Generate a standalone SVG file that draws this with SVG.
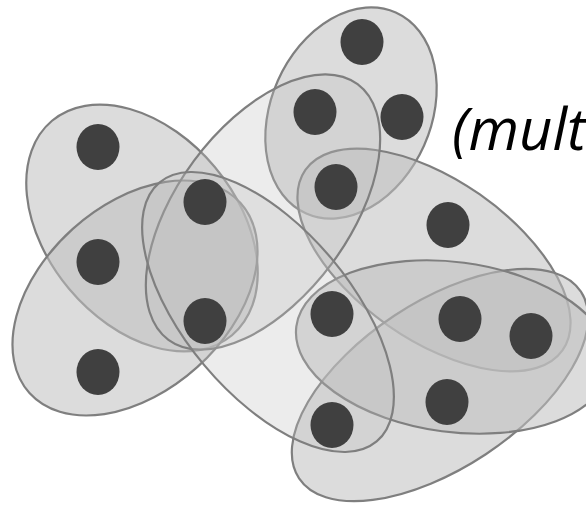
<svg xmlns="http://www.w3.org/2000/svg" width="586" height="506" viewBox="0 0 586 506">
<style>
.e{fill:#c0c0c0;fill-opacity:.55;stroke:#7f7f7f;stroke-width:2.2}
.lt{fill-opacity:.3}
.n{fill:#404040}
.lbl{font-family:"Open Sans","Noto Sans","DejaVu Sans",sans-serif;font-style:italic;font-size:58px;fill:#000}
</style>
<rect width="586" height="506" fill="#fff"/>
<g id="edges">
<ellipse id="e-L1" class="e" cx="142" cy="228" rx="140" ry="95" transform="rotate(50 142 228)"/>
<ellipse id="e-L2" class="e" cx="135" cy="298" rx="142" ry="93" transform="rotate(-42 135 298)"/>
<ellipse id="e-T" class="e" cx="351" cy="113" rx="80" ry="110" transform="rotate(24 351 113)"/>
<ellipse id="e-R" class="e" cx="434" cy="260" rx="157" ry="80" transform="rotate(35 434 260)"/>
<ellipse id="e-D" class="e" cx="440" cy="385" rx="169" ry="83" transform="rotate(-33.5 440 385)"/>
<ellipse id="e-H" class="e" cx="453" cy="347" rx="158" ry="85" transform="rotate(7.5 453 347)"/>
<ellipse id="e-B" class="e lt" cx="263" cy="212" rx="159" ry="86" transform="rotate(-53.5 263 212)"/>
<ellipse id="e-M" class="e lt" cx="268" cy="312" rx="169" ry="83" transform="rotate(50 268 312)"/>
</g>
<g id="n1"><ellipse class="n" cx="98" cy="147" rx="21.5" ry="23"/></g>
<g id="n2"><ellipse class="n" cx="98" cy="262" rx="21.5" ry="23"/></g>
<g id="n3"><ellipse class="n" cx="98" cy="372" rx="21.5" ry="23"/></g>
<g id="n4"><ellipse class="n" cx="205" cy="202" rx="21.5" ry="23"/></g>
<g id="n5"><ellipse class="n" cx="205" cy="321" rx="21.5" ry="23"/></g>
<g id="n6"><ellipse class="n" cx="362" cy="42" rx="21.5" ry="23"/></g>
<g id="n7"><ellipse class="n" cx="315" cy="112" rx="21.5" ry="23"/></g>
<g id="n8"><ellipse class="n" cx="402" cy="117" rx="21.5" ry="23"/></g>
<g id="n9"><ellipse class="n" cx="336" cy="187" rx="21.5" ry="23"/></g>
<g id="n10"><ellipse class="n" cx="448" cy="225" rx="21.5" ry="23"/></g>
<g id="n11"><ellipse class="n" cx="332" cy="314" rx="21.5" ry="23"/></g>
<g id="n12"><ellipse class="n" cx="460" cy="319" rx="21.5" ry="23"/></g>
<g id="n13"><ellipse class="n" cx="531" cy="336" rx="21.5" ry="23"/></g>
<g id="n14"><ellipse class="n" cx="447" cy="402" rx="21.5" ry="23"/></g>
<g id="n15"><ellipse class="n" cx="332" cy="425" rx="21.5" ry="23"/></g>
<text class="lbl" x="452" y="150">(mult</text>
</svg>
